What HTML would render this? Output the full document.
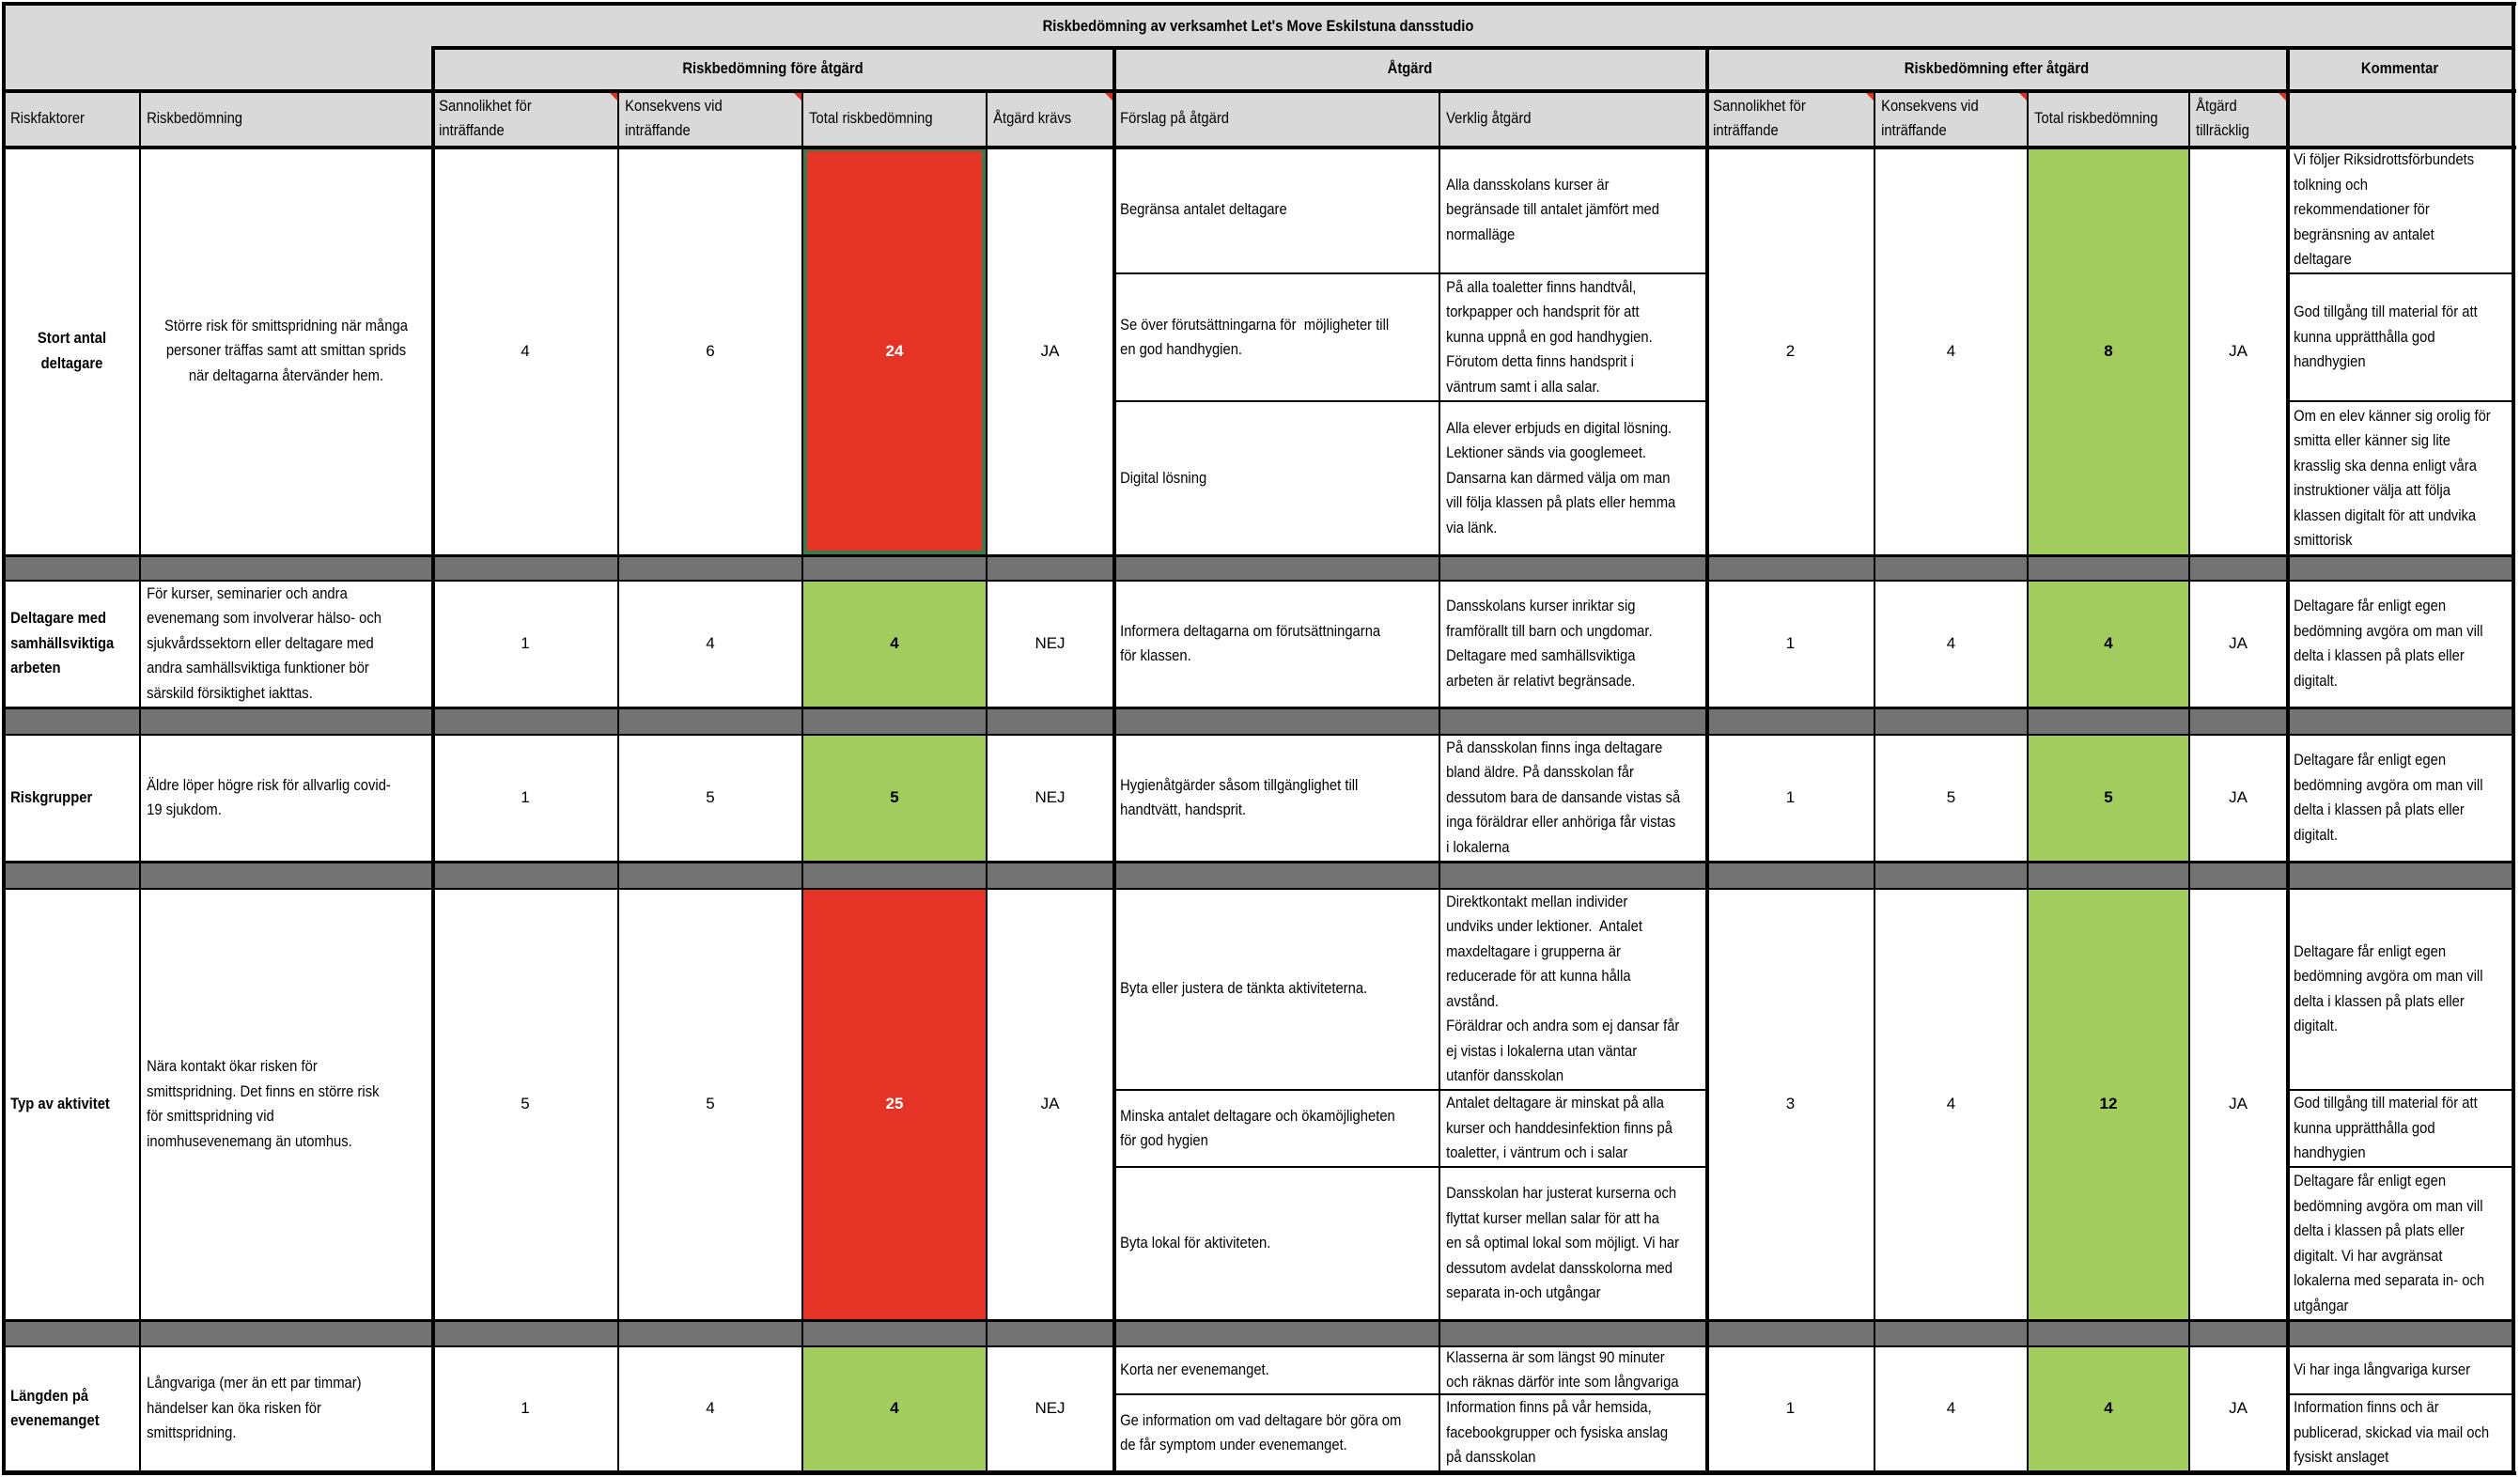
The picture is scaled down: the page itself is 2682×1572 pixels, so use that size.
<!DOCTYPE html>
<html><head><meta charset="utf-8"><style>
body{margin:0;background:#fff;width:2682px;height:1572px;position:relative;overflow:hidden;font-family:"Liberation Sans",sans-serif;font-size:17px;color:#000}
.c{position:absolute;box-sizing:border-box;border-right:2px solid #000;border-bottom:2px solid #000;display:flex;align-items:center;overflow:visible}
.h{background:#d9d9d9}
.g{background:#737373}
.n{justify-content:center}
.t{transform:scaleX(.87);transform-origin:left center;white-space:nowrap;line-height:26.5px;padding-left:7px}
.tc{transform:scaleX(.87);transform-origin:center center;white-space:nowrap;line-height:26.5px;text-align:center;width:100%}
.b{font-weight:bold}
.L{position:absolute;background:#000}
.red{background:#e53426;color:#fff;font-weight:bold}
.grn{background:#a2cc5e;font-weight:bold}
.tri{position:absolute;width:0;height:0;border-top:9px solid #e03020;border-left:9px solid transparent}
</style></head><body>
<div class="c h n b" style="left:5px;top:5px;width:2670px;height:46px;border-bottom:none"><div class="tc">Riskbedömning av verksamhet Let's Move Eskilstuna dansstudio</div></div>
<div class="c h" style="left:5px;top:51px;width:456px;height:46px;border-right:none;border-bottom:none"></div>
<div class="c h n b" style="left:461px;top:51px;width:725px;height:46px"><div class="tc">Riskbedömning före åtgärd</div></div>
<div class="c h n b" style="left:1186px;top:51px;width:631px;height:46px"><div class="tc">Åtgärd</div></div>
<div class="c h n b" style="left:1817px;top:51px;width:618px;height:46px"><div class="tc">Riskbedömning efter åtgärd</div></div>
<div class="c h n b" style="left:2435px;top:51px;width:240px;height:46px"><div class="tc">Kommentar</div></div>
<div class="c h" style="left:5px;top:97px;width:145px;height:60px"><div class="t">Riskfaktorer</div></div>
<div class="c h" style="left:150px;top:97px;width:311px;height:60px"><div class="t">Riskbedömning</div></div>
<div class="c h" style="left:461px;top:97px;width:198px;height:60px"><div class="t">Sannolikhet för<br>inträffande</div></div>
<div class="c h" style="left:659px;top:97px;width:196px;height:60px"><div class="t">Konsekvens vid<br>inträffande</div></div>
<div class="c h" style="left:855px;top:97px;width:196px;height:60px"><div class="t">Total riskbedömning</div></div>
<div class="c h" style="left:1051px;top:97px;width:135px;height:60px"><div class="t">Åtgärd krävs</div></div>
<div class="c h" style="left:1186px;top:97px;width:347px;height:60px"><div class="t">Förslag på åtgärd</div></div>
<div class="c h" style="left:1533px;top:97px;width:284px;height:60px"><div class="t">Verklig åtgärd</div></div>
<div class="c h" style="left:1817px;top:97px;width:179px;height:60px"><div class="t">Sannolikhet för<br>inträffande</div></div>
<div class="c h" style="left:1996px;top:97px;width:163px;height:60px"><div class="t">Konsekvens vid<br>inträffande</div></div>
<div class="c h" style="left:2159px;top:97px;width:172px;height:60px"><div class="t">Total riskbedömning</div></div>
<div class="c h" style="left:2331px;top:97px;width:104px;height:60px"><div class="t">Åtgärd<br>tillräcklig</div></div>
<div class="c h" style="left:2435px;top:97px;width:240px;height:60px"></div>
<div class="tri" style="left:648px;top:98px"></div>
<div class="tri" style="left:844px;top:98px"></div>
<div class="tri" style="left:1175px;top:98px"></div>
<div class="tri" style="left:1985px;top:98px"></div>
<div class="tri" style="left:2148px;top:98px"></div>
<div class="tri" style="left:2424px;top:98px"></div>

<div class="c b" style="left:5px;top:157px;width:145px;height:435px"><div class="tc">Stort antal<br>deltagare</div></div>
<div class="c" style="left:150px;top:157px;width:311px;height:435px"><div class="tc">Större risk för smittspridning när många<br>personer träffas samt att smittan sprids<br>när deltagarna återvänder hem.</div></div>
<div class="c n" style="left:461px;top:157px;width:198px;height:435px">4</div>
<div class="c n" style="left:659px;top:157px;width:196px;height:435px">6</div>
<div class="c n red" style="left:855px;top:157px;width:196px;height:435px;box-shadow:inset 0 0 0 4px #3f7a4f">24</div>
<div class="c n" style="left:1051px;top:157px;width:135px;height:435px">JA</div>
<div class="c" style="left:1186px;top:157px;width:347px;height:135px"><div class="t">Begränsa antalet deltagare</div></div>
<div class="c" style="left:1186px;top:292px;width:347px;height:136px"><div class="t">Se över förutsättningarna för&nbsp; möjligheter till<br>en god handhygien.</div></div>
<div class="c" style="left:1186px;top:428px;width:347px;height:164px"><div class="t">Digital lösning</div></div>
<div class="c" style="left:1533px;top:157px;width:284px;height:135px"><div class="t">Alla dansskolans kurser är<br>begränsade till antalet jämfört med<br>normalläge</div></div>
<div class="c" style="left:1533px;top:292px;width:284px;height:136px"><div class="t">På alla toaletter finns handtvål,<br>torkpapper och handsprit för att<br>kunna uppnå en god handhygien.<br>Förutom detta finns handsprit i<br>väntrum samt i alla salar.</div></div>
<div class="c" style="left:1533px;top:428px;width:284px;height:164px"><div class="t">Alla elever erbjuds en digital lösning.<br>Lektioner sänds via googlemeet.<br>Dansarna kan därmed välja om man<br>vill följa klassen på plats eller hemma<br>via länk.</div></div>
<div class="c n" style="left:1817px;top:157px;width:179px;height:435px">2</div>
<div class="c n" style="left:1996px;top:157px;width:163px;height:435px">4</div>
<div class="c n grn" style="left:2159px;top:157px;width:172px;height:435px">8</div>
<div class="c n" style="left:2331px;top:157px;width:104px;height:435px">JA</div>
<div class="c" style="left:2435px;top:157px;width:240px;height:135px"><div class="t">Vi följer Riksidrottsförbundets<br>tolkning och<br>rekommendationer för<br>begränsning av antalet<br>deltagare</div></div>
<div class="c" style="left:2435px;top:292px;width:240px;height:136px"><div class="t">God tillgång till material för att<br>kunna upprätthålla god<br>handhygien</div></div>
<div class="c" style="left:2435px;top:428px;width:240px;height:164px"><div class="t">Om en elev känner sig orolig för<br>smitta eller känner sig lite<br>krasslig ska denna enligt våra<br>instruktioner välja att följa<br>klassen digitalt för att undvika<br>smittorisk</div></div>

<div class="c b" style="left:5px;top:618px;width:145px;height:136px"><div class="t">Deltagare med<br>samhällsviktiga<br>arbeten</div></div>
<div class="c" style="left:150px;top:618px;width:311px;height:136px"><div class="t">För kurser, seminarier och andra<br>evenemang som involverar hälso- och<br>sjukvårdssektorn eller deltagare med<br>andra samhällsviktiga funktioner bör<br>särskild försiktighet iakttas.</div></div>
<div class="c n" style="left:461px;top:618px;width:198px;height:136px">1</div>
<div class="c n" style="left:659px;top:618px;width:196px;height:136px">4</div>
<div class="c n grn" style="left:855px;top:618px;width:196px;height:136px">4</div>
<div class="c n" style="left:1051px;top:618px;width:135px;height:136px">NEJ</div>
<div class="c" style="left:1186px;top:618px;width:347px;height:136px"><div class="t">Informera deltagarna om förutsättningarna<br>för klassen.</div></div>
<div class="c" style="left:1533px;top:618px;width:284px;height:136px"><div class="t">Dansskolans kurser inriktar sig<br>framförallt till barn och ungdomar.<br>Deltagare med samhällsviktiga<br>arbeten är relativt begränsade.</div></div>
<div class="c n" style="left:1817px;top:618px;width:179px;height:136px">1</div>
<div class="c n" style="left:1996px;top:618px;width:163px;height:136px">4</div>
<div class="c n grn" style="left:2159px;top:618px;width:172px;height:136px">4</div>
<div class="c n" style="left:2331px;top:618px;width:104px;height:136px">JA</div>
<div class="c" style="left:2435px;top:618px;width:240px;height:136px"><div class="t">Deltagare får enligt egen<br>bedömning avgöra om man vill<br>delta i klassen på plats eller<br>digitalt.</div></div>

<div class="c b" style="left:5px;top:782px;width:145px;height:136px"><div class="t">Riskgrupper</div></div>
<div class="c" style="left:150px;top:782px;width:311px;height:136px"><div class="t">Äldre löper högre risk för allvarlig covid-<br>19 sjukdom.</div></div>
<div class="c n" style="left:461px;top:782px;width:198px;height:136px">1</div>
<div class="c n" style="left:659px;top:782px;width:196px;height:136px">5</div>
<div class="c n grn" style="left:855px;top:782px;width:196px;height:136px">5</div>
<div class="c n" style="left:1051px;top:782px;width:135px;height:136px">NEJ</div>
<div class="c" style="left:1186px;top:782px;width:347px;height:136px"><div class="t">Hygienåtgärder såsom tillgänglighet till<br>handtvätt, handsprit.</div></div>
<div class="c" style="left:1533px;top:782px;width:284px;height:136px"><div class="t">På dansskolan finns inga deltagare<br>bland äldre. På dansskolan får<br>dessutom bara de dansande vistas så<br>inga föräldrar eller anhöriga får vistas<br>i lokalerna</div></div>
<div class="c n" style="left:1817px;top:782px;width:179px;height:136px">1</div>
<div class="c n" style="left:1996px;top:782px;width:163px;height:136px">5</div>
<div class="c n grn" style="left:2159px;top:782px;width:172px;height:136px">5</div>
<div class="c n" style="left:2331px;top:782px;width:104px;height:136px">JA</div>
<div class="c" style="left:2435px;top:782px;width:240px;height:136px"><div class="t">Deltagare får enligt egen<br>bedömning avgöra om man vill<br>delta i klassen på plats eller<br>digitalt.</div></div>

<div class="c b" style="left:5px;top:946px;width:145px;height:460px"><div class="t">Typ av aktivitet</div></div>
<div class="c" style="left:150px;top:946px;width:311px;height:460px"><div class="t">Nära kontakt ökar risken för<br>smittspridning. Det finns en större risk<br>för smittspridning vid<br>inomhusevenemang än utomhus.</div></div>
<div class="c n" style="left:461px;top:946px;width:198px;height:460px">5</div>
<div class="c n" style="left:659px;top:946px;width:196px;height:460px">5</div>
<div class="c n red" style="left:855px;top:946px;width:196px;height:460px">25</div>
<div class="c n" style="left:1051px;top:946px;width:135px;height:460px">JA</div>
<div class="c" style="left:1186px;top:946px;width:347px;height:215px"><div class="t">Byta eller justera de tänkta aktiviteterna.</div></div>
<div class="c" style="left:1186px;top:1161px;width:347px;height:82px"><div class="t">Minska antalet deltagare och ökamöjligheten<br>för god hygien</div></div>
<div class="c" style="left:1186px;top:1243px;width:347px;height:163px"><div class="t">Byta lokal för aktiviteten.</div></div>
<div class="c" style="left:1533px;top:946px;width:284px;height:215px"><div class="t">Direktkontakt mellan individer<br>undviks under lektioner.&nbsp; Antalet<br>maxdeltagare i grupperna är<br>reducerade för att kunna hålla<br>avstånd.<br>Föräldrar och andra som ej dansar får<br>ej vistas i lokalerna utan väntar<br>utanför dansskolan</div></div>
<div class="c" style="left:1533px;top:1161px;width:284px;height:82px"><div class="t">Antalet deltagare är minskat på alla<br>kurser och handdesinfektion finns på<br>toaletter, i väntrum och i salar</div></div>
<div class="c" style="left:1533px;top:1243px;width:284px;height:163px"><div class="t">Dansskolan har justerat kurserna och<br>flyttat kurser mellan salar för att ha<br>en så optimal lokal som möjligt. Vi har<br>dessutom avdelat dansskolorna med<br>separata in-och utgångar</div></div>
<div class="c n" style="left:1817px;top:946px;width:179px;height:460px">3</div>
<div class="c n" style="left:1996px;top:946px;width:163px;height:460px">4</div>
<div class="c n grn" style="left:2159px;top:946px;width:172px;height:460px">12</div>
<div class="c n" style="left:2331px;top:946px;width:104px;height:460px">JA</div>
<div class="c" style="left:2435px;top:946px;width:240px;height:215px"><div class="t">Deltagare får enligt egen<br>bedömning avgöra om man vill<br>delta i klassen på plats eller<br>digitalt.</div></div>
<div class="c" style="left:2435px;top:1161px;width:240px;height:82px"><div class="t">God tillgång till material för att<br>kunna upprätthålla god<br>handhygien</div></div>
<div class="c" style="left:2435px;top:1243px;width:240px;height:163px"><div class="t">Deltagare får enligt egen<br>bedömning avgöra om man vill<br>delta i klassen på plats eller<br>digitalt. Vi har avgränsat<br>lokalerna med separata in- och<br>utgångar</div></div>

<div class="c b" style="left:5px;top:1433px;width:145px;height:134px"><div class="t">Längden på<br>evenemanget</div></div>
<div class="c" style="left:150px;top:1433px;width:311px;height:134px"><div class="t">Långvariga (mer än ett par timmar)<br>händelser kan öka risken för<br>smittspridning.</div></div>
<div class="c n" style="left:461px;top:1433px;width:198px;height:134px">1</div>
<div class="c n" style="left:659px;top:1433px;width:196px;height:134px">4</div>
<div class="c n grn" style="left:855px;top:1433px;width:196px;height:134px">4</div>
<div class="c n" style="left:1051px;top:1433px;width:135px;height:134px">NEJ</div>
<div class="c" style="left:1186px;top:1433px;width:347px;height:52px"><div class="t">Korta ner evenemanget.</div></div>
<div class="c" style="left:1186px;top:1485px;width:347px;height:82px"><div class="t">Ge information om vad deltagare bör göra om<br>de får symptom under evenemanget.</div></div>
<div class="c" style="left:1533px;top:1433px;width:284px;height:52px"><div class="t">Klasserna är som längst 90 minuter<br>och räknas därför inte som långvariga</div></div>
<div class="c" style="left:1533px;top:1485px;width:284px;height:82px"><div class="t">Information finns på vår hemsida,<br>facebookgrupper och fysiska anslag<br>på dansskolan</div></div>
<div class="c n" style="left:1817px;top:1433px;width:179px;height:134px">1</div>
<div class="c n" style="left:1996px;top:1433px;width:163px;height:134px">4</div>
<div class="c n grn" style="left:2159px;top:1433px;width:172px;height:134px">4</div>
<div class="c n" style="left:2331px;top:1433px;width:104px;height:134px">JA</div>
<div class="c" style="left:2435px;top:1433px;width:240px;height:52px"><div class="t">Vi har inga långvariga kurser</div></div>
<div class="c" style="left:2435px;top:1485px;width:240px;height:82px"><div class="t">Information finns och är<br>publicerad, skickad via mail och<br>fysiskt anslaget</div></div>

<div class="c g" style="left:5px;top:592px;width:2670px;height:26px;border:none"></div>
<div class="c g" style="left:5px;top:754px;width:2670px;height:28px;border:none"></div>
<div class="c g" style="left:5px;top:918px;width:2670px;height:28px;border:none"></div>
<div class="c g" style="left:5px;top:1406px;width:2670px;height:27px;border:none"></div>

<div class="L" style="left:148px;top:592px;width:2px;height:27px"></div><div class="L" style="left:148px;top:754px;width:2px;height:28px"></div><div class="L" style="left:148px;top:918px;width:2px;height:28px"></div><div class="L" style="left:148px;top:1406px;width:2px;height:27px"></div>
<div class="L" style="left:657px;top:592px;width:2px;height:841px"></div>
<div class="L" style="left:853px;top:592px;width:2px;height:841px"></div>
<div class="L" style="left:1049px;top:592px;width:2px;height:841px"></div>
<div class="L" style="left:1531px;top:592px;width:2px;height:841px"></div>
<div class="L" style="left:1994px;top:592px;width:2px;height:841px"></div>
<div class="L" style="left:2157px;top:592px;width:2px;height:841px"></div>
<div class="L" style="left:2329px;top:592px;width:2px;height:841px"></div>

<div class="L" style="left:5px;top:591px;width:2670px;height:2px"></div>
<div class="L" style="left:5px;top:617px;width:2670px;height:2px"></div>
<div class="L" style="left:5px;top:753px;width:2670px;height:2px"></div>
<div class="L" style="left:5px;top:781px;width:2670px;height:2px"></div>
<div class="L" style="left:5px;top:917px;width:2670px;height:2px"></div>
<div class="L" style="left:5px;top:945px;width:2670px;height:2px"></div>
<div class="L" style="left:5px;top:1405px;width:2670px;height:2px"></div>
<div class="L" style="left:5px;top:1432px;width:2670px;height:2px"></div>

<div class="L" style="left:2px;top:2px;width:2676px;height:4px"></div>
<div class="L" style="left:2px;top:1566px;width:2676px;height:4px"></div>
<div class="L" style="left:2px;top:2px;width:4px;height:1568px"></div>
<div class="L" style="left:2673px;top:2px;width:4px;height:1568px"></div>
<div class="L" style="left:459px;top:49px;width:2218px;height:4px"></div>
<div class="L" style="left:2px;top:95px;width:2676px;height:4px"></div>
<div class="L" style="left:2px;top:155px;width:2676px;height:4px"></div>
<div class="L" style="left:459px;top:49px;width:4px;height:1520px"></div>
<div class="L" style="left:1184px;top:49px;width:4px;height:1520px"></div>
<div class="L" style="left:1815px;top:49px;width:4px;height:1520px"></div>
<div class="L" style="left:2433px;top:49px;width:4px;height:1520px"></div>
</body></html>
